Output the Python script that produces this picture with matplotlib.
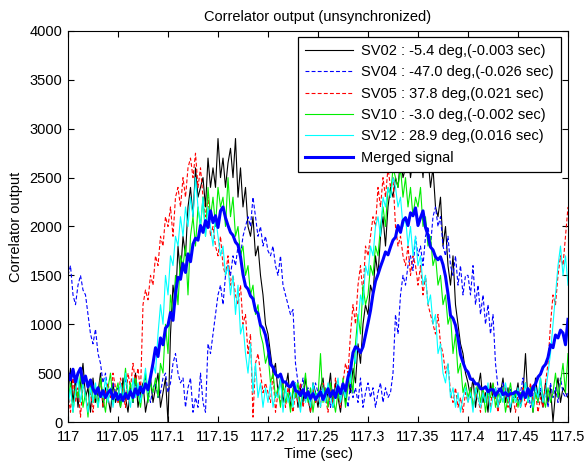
import numpy as np
import matplotlib
matplotlib.use("Agg")
import matplotlib.pyplot as plt

plt.rcParams['font.family'] = ['Liberation Sans', 'DejaVu Sans']

t_start = 117.0
t_step = 0.0025

sv02 = [
    300,550,200,450,150,400,600,250,350,100,450,200,300,500,150,350,250,100,400,200,
    300,150,450,250,100,350,200,500,150,300,400,100,250,450,200,350,500,150,300,450,
    0,900,1400,1200,1800,1500,1900,1700,2200,2400,2100,2600,2300,2400,2500,2200,2700,2400,2600,2400,
    2900,2500,2700,2400,2650,2800,2500,2900,2300,2600,2200,2400,2000,1900,2100,1700,1800,1500,1300,1000,
    900,700,500,600,300,450,200,350,500,150,300,400,150,350,200,450,250,100,400,300,
    150,350,450,200,300,500,150,400,250,100,350,200,450,300,550,400,800,600,1000,1200,
    1100,1400,1300,1700,1500,1900,2100,1800,2200,2400,2300,2500,2400,2700,2500,2600,2800,2500,2700,2900,
    2600,2800,2500,2900,2700,2400,2600,2200,2100,2300,1800,2000,1600,1400,1700,1200,1000,800,700,500,
    400,250,450,150,350,500,200,300,100,400,250,350,150,300,450,200,350,100,300,250,
    400,150,300,700,200,350,100,450,250,300,150,400,200,350,0,300,450,200,350,300,
    250]

sv04 = [
    1500,1600,1300,1200,1400,1500,1350,1300,1100,900,800,950,700,600,400,500,300,250,400,300,
    350,200,300,450,250,350,200,400,300,250,350,450,300,200,350,400,250,300,450,500,
    300,400,600,700,500,400,450,150,350,450,100,250,150,500,200,100,800,700,900,1100,
    1300,1400,1200,1500,1600,1500,1700,1600,1800,1700,1900,2000,2100,2000,2300,2100,1900,2000,1800,1900,
    1750,1700,1800,1600,1500,1700,1400,1300,1200,1100,1150,600,400,300,450,250,350,200,300,400,
    300,250,400,200,350,150,300,250,400,200,350,300,150,400,250,350,200,450,150,300,
    400,250,350,150,300,400,200,350,250,300,500,1100,900,1300,1500,1400,1600,1700,1550,1900,
    1700,1800,1600,1900,2000,1800,2100,2200,2000,2100,1800,1700,1900,1600,1500,1700,1400,1600,1300,1500,
    1500,1300,1600,1200,1400,1100,1300,1000,1200,900,1100,600,350,250,400,300,200,350,250,300,
    200,300,450,250,350,150,300,400,200,350,250,300,150,400,250,350,200,450,300,250,
    300]

sv05 = [
    300,100,450,200,350,50,400,250,150,300,100,350,200,450,150,300,400,250,500,350,
    200,450,300,150,500,350,600,400,550,300,1200,1350,1250,1500,1400,1700,1600,1900,1800,2100,
    2000,2200,1900,2300,2400,2200,2500,2300,2600,2700,2500,2750,2400,2600,2300,2100,2300,1900,2000,1800,
    1700,1900,1600,1500,1700,1400,1500,1300,1200,1400,1000,1100,700,900,50,600,700,500,300,400,
    300,200,500,100,300,200,400,150,350,250,100,300,200,400,150,300,250,100,350,200,
    300,150,400,250,100,350,200,450,300,150,400,600,500,900,1200,1000,1400,1600,1300,1800,
    1700,1900,2100,2000,2400,2200,2500,2300,2600,2400,2500,2000,1800,1900,1700,1600,1800,1500,1700,1600,
    1400,1600,1300,1500,1200,1100,1000,900,1100,800,700,500,600,300,200,350,150,250,100,300,
    200,350,150,300,250,100,350,200,300,150,400,250,100,300,200,350,150,300,250,100,
    300,200,350,150,250,400,200,300,100,250,150,400,600,1000,1300,1200,1500,1700,1600,1900,
    2200]

sv10 = [
    200,400,100,350,250,500,150,300,50,400,200,300,150,450,250,100,350,500,200,300,
    400,150,300,550,250,400,200,450,300,150,350,500,200,400,300,450,250,600,500,1000,
    700,1300,1100,1500,1200,1700,1600,1800,1300,1900,2100,1800,2200,2000,2300,1900,2400,2100,2300,2000,
    2400,2200,2300,2000,2500,2100,2300,1900,2000,1700,1800,1500,1600,1300,1400,1100,1200,900,800,600,
    700,400,500,250,350,150,400,200,300,100,350,250,400,150,300,500,200,350,100,300,
    250,700,200,350,150,400,250,100,300,200,450,150,350,500,300,800,1100,900,1400,1200,
    1300,1600,1500,1800,1700,2000,2200,2000,2400,2300,2600,2500,2400,2600,2300,2500,2200,2400,2100,2300,
    2200,2400,2000,2100,1800,1900,1600,1700,1400,1500,1200,1300,1000,1100,700,900,500,600,300,400,
    250,350,150,300,400,200,350,100,300,250,400,150,300,200,350,100,250,400,200,300,
    150,300,250,400,200,350,100,300,200,450,250,150,350,200,300,500,250,400,600,300,
    700]

sv12 = [
    150,350,100,300,450,200,400,250,100,350,200,400,150,300,250,450,200,350,150,300,
    250,400,200,500,300,150,450,250,400,200,350,550,300,450,600,500,900,1200,1000,1500,
    1300,1700,1600,1900,1800,2100,1900,2200,2000,2300,2100,2500,2200,2000,2300,1900,2200,2000,1800,2100,
    1900,1700,1800,1500,1600,1300,1500,1100,1400,900,1000,700,500,800,300,600,250,400,150,350,
    200,400,150,300,250,450,100,350,200,300,150,400,250,100,350,200,300,150,400,250,
    300,150,350,200,400,250,150,300,450,200,350,250,500,400,700,600,1000,1300,1200,1600,
    1500,1800,1700,2000,2100,1900,2300,2200,2400,2300,2500,2400,2200,2300,2000,2100,1800,2000,1700,1900,
    1600,1700,1400,1500,1200,1300,1000,1100,700,800,500,400,600,250,350,150,300,100,250,350,
    200,300,100,350,250,150,300,200,400,100,250,350,150,300,200,400,250,150,300,200,
    350,150,250,400,200,300,150,350,250,450,200,300,500,700,1000,1300,1600,1800,1500,1700,
    1400]

merged = [
    500,430,540,410,500,550,400,470,360,430,340,290,350,260,320,250,300,330,240,300,
    230,280,220,290,240,310,250,340,280,360,300,390,330,460,600,760,670,860,790,960,
    990,1120,1040,1320,1480,1460,1620,1530,1720,1640,1820,1880,1860,2010,1940,2060,1990,2160,2040,2110,
    1990,2160,2200,2090,2010,1940,1910,1840,1810,1690,1510,1390,1360,1290,1260,1140,1110,990,960,890,
    760,590,560,490,460,490,410,410,370,360,410,320,310,270,330,250,310,240,290,230,
    270,310,230,290,340,260,320,250,360,290,390,320,460,540,710,770,750,710,770,890,
    1010,1140,1310,1440,1510,1590,1660,1740,1710,1790,1860,1890,2010,1940,2060,2090,2010,2140,2110,2190,
    2010,2090,2160,1990,1910,1790,1760,1690,1660,1690,1610,1490,1310,1090,1060,990,860,690,610,540,
    510,440,430,390,390,340,340,360,310,330,330,270,310,340,280,300,270,290,290,310,
    300,240,310,250,340,270,360,390,460,490,560,590,660,790,760,890,860,940,910,790,
    1050]

labels = [
    "SV02 : -5.4 deg,(-0.003 sec)",
    "SV04 : -47.0 deg,(-0.026 sec)",
    "SV05 : 37.8 deg,(0.021 sec)",
    "SV10 : -3.0 deg,(-0.002 sec)",
    "SV12 : 28.9 deg,(0.016 sec)",
    "Merged signal",
]

xticks = [117, 117.05, 117.1, 117.15, 117.2, 117.25, 117.3, 117.35, 117.4, 117.45, 117.5]
xticklabels = ["117", "117.05", "117.1", "117.15", "117.2", "117.25", "117.3", "117.35", "117.4", "117.45", "117.5"]
yticks = [0, 500, 1000, 1500, 2000, 2500, 3000, 3500, 4000]

n = len(merged)
t = t_start + t_step * np.arange(n)

fs = 10.5
fig = plt.figure(figsize=(5.87, 4.65), dpi=100)
ax = fig.add_axes([68 / 587, 43 / 465, 500 / 587, 391 / 465])

dash = (0, (3.5, 2))
ax.plot(t, sv02, color='k', lw=0.8, label=labels[0])
ax.plot(t, sv04, color='#0000ff', lw=0.8, linestyle=dash, label=labels[1])
ax.plot(t, sv05, color='#ff0000', lw=0.8, linestyle=dash, label=labels[2])
ax.plot(t, sv10, color='#00ee00', lw=0.8, label=labels[3])
ax.plot(t, sv12, color='#00ffff', lw=0.8, label=labels[4])
ax.plot(t, merged, color='#0000ff', lw=2.2, label=labels[5])

ax.set_xlim(117, 117.5)
ax.set_ylim(0, 4000)
ax.set_xticks(xticks)
ax.set_xticklabels(xticklabels)
ax.set_yticks(yticks)
ax.tick_params(direction='in', top=True, right=True, labelsize=fs, length=4, width=0.8)
ax.tick_params(axis='x', pad=6)
ax.tick_params(axis='y', pad=4)
for s in ax.spines.values():
    s.set_linewidth(0.8)

ax.set_title("Correlator output (unsynchronized)", fontsize=fs, pad=7)
ax.set_xlabel("Time (sec)", fontsize=fs, labelpad=2)
ax.set_ylabel("Correlator output", fontsize=fs, labelpad=5)

leg = ax.legend(loc='upper right', bbox_to_anchor=(0.986, 0.985), borderaxespad=0,
                fontsize=fs, frameon=True, fancybox=False,
                framealpha=1, edgecolor='k', handlelength=3.3,
                labelspacing=0.5, borderpad=0.5, handletextpad=0.55)
leg.get_frame().set_linewidth(0.9)

fig.savefig("out.png", dpi=100)
